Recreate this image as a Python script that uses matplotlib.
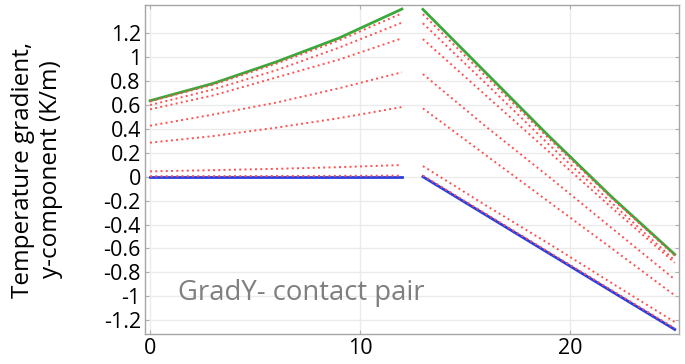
import numpy as np
import matplotlib.pyplot as plt

plt.rcParams['font.family'] = ['Open Sans', 'DejaVu Sans']

# left boundary (x = 0..12) and right boundary (x = 13..25) of the contact pair
x_left = [0, 3, 6, 9, 12]
x_right = [13, 16, 19, 22, 25]

green_left = [0.636, 0.78, 0.96, 1.16, 1.403]
green_right = [1.40, 0.87, 0.34, -0.17, -0.65]
blue_left = [0.0, 0.0, 0.0, 0.0, 0.0]
blue_right = [0.0, -0.32, -0.64, -0.96, -1.278]

# intermediate solutions (dotted red)
red_left = [
    [0.630, 0.77, 0.945, 1.14, 1.367],
    [0.600, 0.73, 0.89, 1.08, 1.289],
    [0.564, 0.68, 0.83, 0.98, 1.158],
    [0.427, 0.52, 0.62, 0.74, 0.874],
    [0.285, 0.34, 0.41, 0.49, 0.583],
    [0.045, 0.055, 0.066, 0.08, 0.098],
    [0.004, 0.005, 0.006, 0.007, 0.009],
]
red_right = [
    [1.360, 0.84, 0.32, -0.18, -0.66],
    [1.284, 0.78, 0.27, -0.22, -0.70],
    [1.152, 0.68, 0.21, -0.26, -0.72],
    [0.859, 0.42, 0.00, -0.43, -0.859],
    [0.572, 0.18, -0.21, -0.60, -0.993],
    [0.089, -0.24, -0.56, -0.89, -1.216],
    [0.010, -0.31, -0.63, -0.95, -1.268],
]

yticks = np.round(np.arange(-1.2, 1.21, 0.2), 1)
ytick_labels = ['%g' % v if v != 0 else '0' for v in yticks]
xticks = [0, 10, 20]

fig = plt.figure(figsize=(6.85, 3.64), dpi=100)
ax = fig.add_axes([0.2117, 0.0824, 0.7795, 0.9039])

green = '#3aa83a'
blue = '#2b3fe0'
red = '#ff4f4f'

ax.plot(x_left, green_left, color=green, lw=2.0, zorder=3)
ax.plot(x_right, green_right, color=green, lw=2.0, zorder=3)
ax.plot(x_left, blue_left, color=blue, lw=2.0, zorder=3)
ax.plot(x_right, blue_right, color=blue, lw=2.0, zorder=3)

for yl, yr in zip(red_left, red_right):
    ax.plot(x_left, yl, color=red, lw=1.4, ls=(0, (1, 1.7)), zorder=4)
    ax.plot(x_right, yr, color=red, lw=1.4, ls=(0, (1, 1.7)), zorder=4)

ax.set_xlim(-0.24, 25.2)
ax.set_ylim(-1.316, 1.437)
ax.set_xticks(xticks)
ax.set_yticks(yticks)
ax.set_yticklabels(ytick_labels)
ax.grid(True, color='#ebebeb', lw=1.0)
ax.set_axisbelow(True)

for s in ax.spines.values():
    s.set_color('#a6a6a6')
    s.set_linewidth(1.0)
ax.tick_params(direction='in', length=3, color='#b0b0b0', labelsize=15.5,
               top=True, right=True, pad=3)

ax.set_ylabel('Temperature gradient,\ny-component (K/m)', fontsize=17.5,
              linespacing=1.2, labelpad=29)

ax.text(1.35, -0.97, 'GradY- contact pair', color='#7f7f7f', fontsize=19.8,
        ha='left', va='center')

fig.savefig('out.png', dpi=100)
